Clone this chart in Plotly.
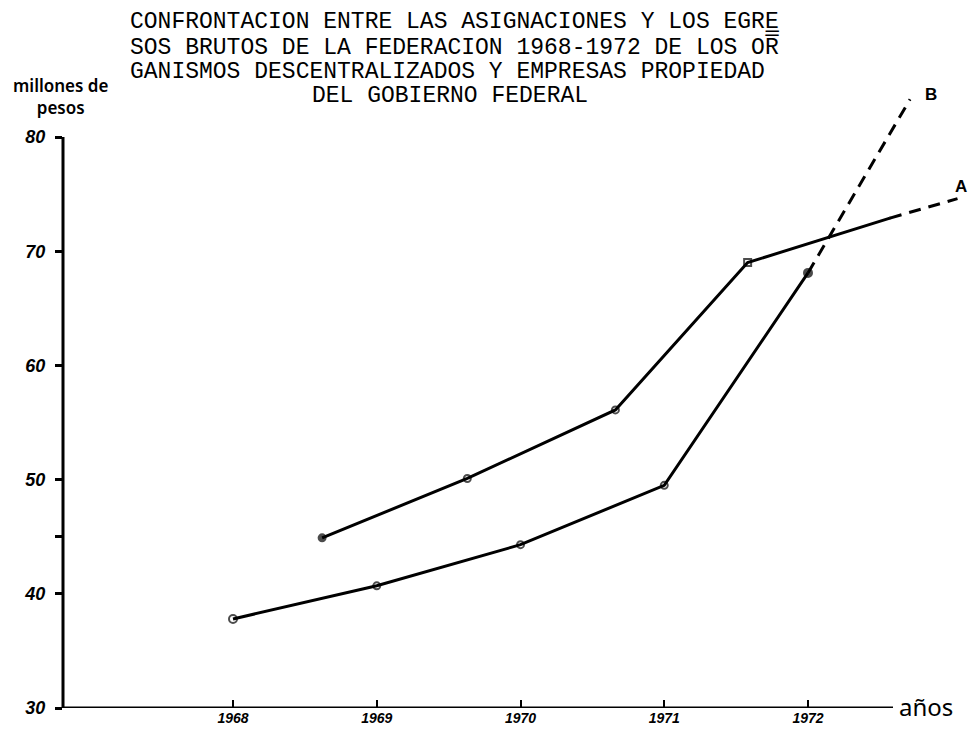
import plotly.graph_objects as go

# ---- data ----
years_b = [1968, 1969, 1970, 1971, 1972]
values_b = [37.8, 40.7, 44.3, 49.5, 68.1]
proj_b_x = [1972, 1972.71]
proj_b_y = [68.1, 83.3]

years_a = [1968.62, 1969.63, 1970.66, 1971.58, 1972.57]
values_a = [44.9, 50.1, 56.1, 69.0, 72.9]
proj_a_x = [1972.57, 1973.04]
proj_a_y = [72.9, 74.6]

x_ticks = [1968, 1969, 1970, 1971, 1972]
x_labels = ["1968", "1969", "1970", "1971", "1972"]
y_ticks = [30, 40, 45, 50, 60, 70, 80]
y_labels = ["30", "40", "", "50", "60", "70", "80"]

title_lines = [
    "CONFRONTACION ENTRE LAS ASIGNACIONES Y LOS EGR" + "E\u0332",
    "SOS BRUTOS DE LA FEDERACION 1968-1972 DE LOS O" + "R\u0305",
    "GANISMOS DESCENTRALIZADOS Y EMPRESAS PROPIEDAD",
    "DEL GOBIERNO FEDERAL",
]

# ---- geometry helpers (page pixels; page has an 8px body margin) ----
OFF = 8
FIG_W, FIG_H = 977 - 2 * OFF, 734 - 2 * OFF
PL, PR, PT, PB = 63, 977 - OFF, 90, 708
def px(xp):
    return (xp - PL) / (PR - PL)
def py(yp):
    return (PB - yp) / (PB - PT)

HAND = "Liberation Sans, Arial, sans-serif"
MONO = "'Courier New', 'Liberation Mono', Courier, monospace"

fig = go.Figure()

line_style = dict(color="black", width=3)
fig.add_trace(go.Scatter(
    x=years_a, y=values_a, mode="lines+markers",
    line=line_style,
    marker=dict(symbol=["circle", "circle-open", "circle-open", "square-open", "circle"],
                size=[7, 7, 7, 7, 1], color="black", line=dict(width=2, color="black")),
    showlegend=False, hoverinfo="skip"))
fig.add_trace(go.Scatter(
    x=proj_a_x, y=proj_a_y, mode="lines",
    line=dict(color="black", width=3, dash="12px,8px"),
    showlegend=False, hoverinfo="skip"))
fig.add_trace(go.Scatter(
    x=years_b, y=values_b, mode="lines+markers",
    line=line_style,
    marker=dict(symbol=["circle-open", "circle-open", "circle-open", "circle-open", "circle"],
                size=[8, 7, 7, 7, 8], color="black", line=dict(width=2, color="black")),
    showlegend=False, hoverinfo="skip"))
fig.add_trace(go.Scatter(
    x=proj_b_x, y=proj_b_y, mode="lines",
    line=dict(color="black", width=3, dash="12px,8px"),
    showlegend=False, hoverinfo="skip"))

x0 = 1968 - (233 - PL) / 143.75
x1 = 1968 + (PR - 233) / 143.75
x_axis_end = 1968 + (893 - 233) / 143.75
y_top = 30 + (PB - PT) / 11.42

fig.update_layout(
    width=FIG_W, height=FIG_H,
    margin=dict(l=PL - OFF, r=0, t=PT - OFF, b=(734 - OFF) - PB),
    paper_bgcolor="white", plot_bgcolor="white",
    xaxis=dict(range=[x0, x1], tickvals=x_ticks, ticktext=x_labels,
               ticks="inside", ticklen=8, tickwidth=2, tickcolor="black",
               showline=False, showgrid=False, zeroline=False,
               tickfont=dict(family=HAND, size=14, color="black", weight="bold", style="italic"),
               ticklabelstandoff=0),
    yaxis=dict(range=[30, y_top], tickvals=y_ticks, ticktext=y_labels,
               ticks="outside", ticklen=7, tickwidth=2.5, tickcolor="black",
               showline=False, showgrid=False, zeroline=False,
               tickfont=dict(family=HAND, size=18, color="black", weight="bold", style="italic"),
               ticklabelstandoff=6),
    shapes=[
        dict(type="line", xref="paper", yref="y", x0=0, x1=0, y0=30, y1=80,
             line=dict(color="black", width=3)),
        dict(type="line", xref="x", yref="y", x0=x0, x1=x_axis_end, y0=30, y1=30,
             line=dict(color="black", width=3)),
    ],
)

ann = []
title_y = [22, 47, 72, 96]
title_x = [128, 128, 128, 310]
for t, yy, xx in zip(title_lines, title_y, title_x):
    ann.append(dict(text=t, xref="paper", yref="paper", x=px(xx), y=py(yy),
                    xanchor="left", yanchor="middle", showarrow=False,
                    font=dict(family=MONO, size=23, color="black")))
ann.append(dict(text="millones de<br>pesos", xref="paper", yref="paper", x=px(60), y=py(96),
                xanchor="center", yanchor="middle", showarrow=False, align="center",
                font=dict(family="Noto Sans", size=17, color="black", weight=600)))
ann.append(dict(text="años", xref="paper", yref="paper", x=px(926), y=py(706),
                xanchor="center", yanchor="middle", showarrow=False,
                font=dict(family="Noto Sans", size=24, color="black")))
ann.append(dict(text="B", xref="paper", yref="paper", x=px(931), y=py(94),
                xanchor="center", yanchor="middle", showarrow=False,
                font=dict(family=HAND, size=17, color="black", weight="bold")))
ann.append(dict(text="A", xref="paper", yref="paper", x=px(953), y=py(186),
                xanchor="left", yanchor="middle", showarrow=False,
                font=dict(family=HAND, size=17, color="black", weight="bold")))
fig.update_layout(annotations=ann)

fig.write_html("out.html")
